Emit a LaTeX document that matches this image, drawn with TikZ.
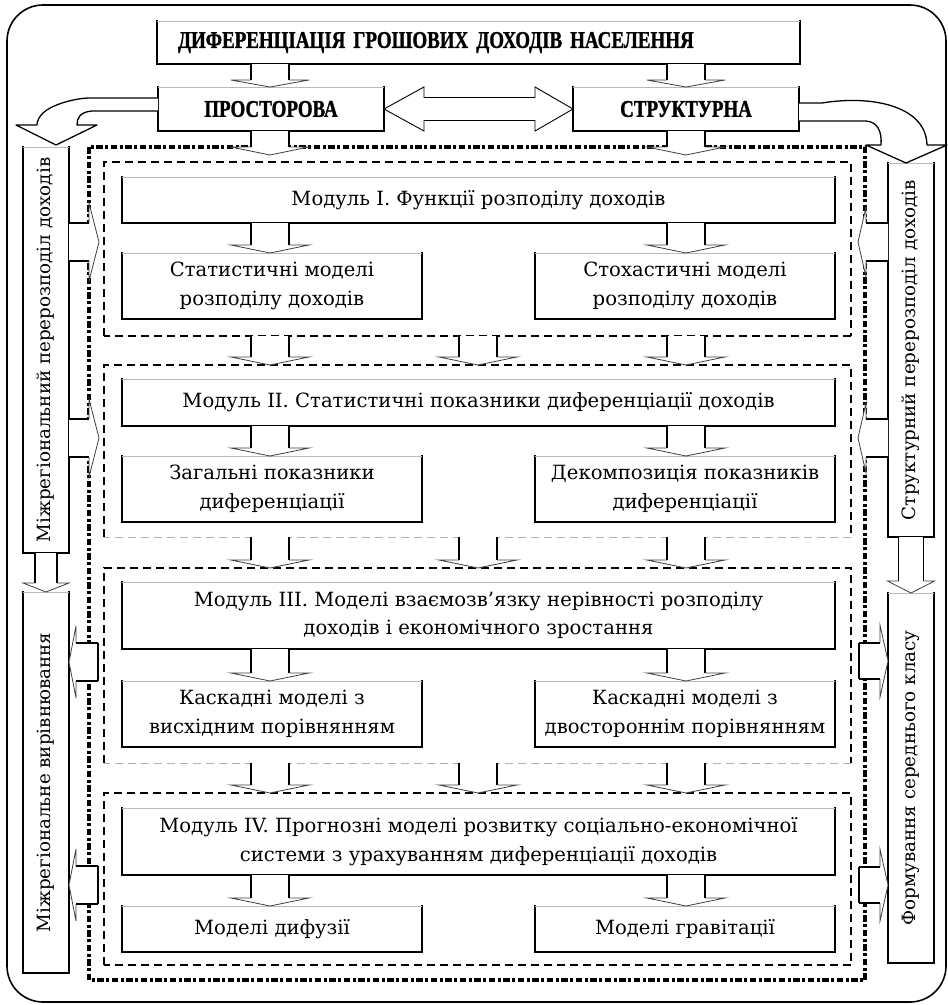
\documentclass[tikz,border=0pt]{standalone}
\usepackage{fontspec}
\usepackage{graphicx}
\setmainfont{DejaVu Serif}
\newfontfamily\titlefont[FakeStretch=0.79,FakeBold=1.2]{Liberation Serif}
\usetikzlibrary{calc}
\newcommand\bodyf{\fontsize{19.6}{28.5}\selectfont}
\newcommand\colf{\fontsize{18.3}{22}\selectfont}
\newcommand\ttlf{\titlefont\bfseries\fontsize{24}{28}\selectfont}
\tikzset{
  box/.style={draw=black, line width=1.4pt, fill=white, inner sep=0pt, outer sep=0pt, align=center, font=\bodyf},
  frm/.style={inner sep=0pt, outer sep=0pt, draw=none},
  modfr/.style={line width=1.4pt, dash pattern=on 8pt off 5pt},
  modfrlight/.style={line width=0.9pt, gray!60, dash pattern=on 8pt off 5pt},
  dotfr/.style={line width=4.5pt, dash pattern=on 6.5pt off 2.5pt on 3pt off 2.5pt},
  outerfr/.style={line width=1.6pt, rounded corners=36pt},
  shaftln/.style={line width=1.4pt, black},
  headln/.style={line width=0.8pt, black!75},
  curvarr/.style={fill=white, draw=black, line width=1.3pt, line join=round},
}
\newcommand\ArrDown[5]{%
  \fill[white] let \p1=(#1),\p2=(#2) in
    (\x1-#3pt,\y1) -- (\x1-#3pt,\y2+#5pt) -- (\x1-#4pt,\y2+#5pt) -- (\x1,\y2)
    -- (\x1+#4pt,\y2+#5pt) -- (\x1+#3pt,\y2+#5pt) -- (\x1+#3pt,\y1) -- cycle;
  \draw[shaftln] let \p1=(#1),\p2=(#2) in
    (\x1-#3pt,\y1) -- (\x1-#3pt,\y2+#5pt) (\x1+#3pt,\y1) -- (\x1+#3pt,\y2+#5pt);
  \draw[headln] let \p1=(#1),\p2=(#2) in
    (\x1-#3pt,\y2+#5pt) -- (\x1-#4pt,\y2+#5pt) -- (\x1,\y2) -- (\x1+#4pt,\y2+#5pt) -- (\x1+#3pt,\y2+#5pt);
}
\newcommand\ArrRight[5]{%
  \fill[white] let \p1=(#1),\p2=(#2) in
    (\x1,\y1+#3pt) -- (\x2-#5pt,\y1+#3pt) -- (\x2-#5pt,\y1+#4pt) -- (\x2,\y1)
    -- (\x2-#5pt,\y1-#4pt) -- (\x2-#5pt,\y1-#3pt) -- (\x1,\y1-#3pt) -- cycle;
  \draw[shaftln] let \p1=(#1),\p2=(#2) in
    (\x1,\y1+#3pt) -- (\x2-#5pt,\y1+#3pt) (\x1,\y1-#3pt) -- (\x2-#5pt,\y1-#3pt);
  \draw[headln] let \p1=(#1),\p2=(#2) in
    (\x2-#5pt,\y1+#3pt) -- (\x2-#5pt,\y1+#4pt) -- (\x2,\y1) -- (\x2-#5pt,\y1-#4pt) -- (\x2-#5pt,\y1-#3pt);
}
\newcommand\ArrLeft[5]{%
  \fill[white] let \p1=(#1),\p2=(#2) in
    (\x1,\y1+#3pt) -- (\x2+#5pt,\y1+#3pt) -- (\x2+#5pt,\y1+#4pt) -- (\x2,\y1)
    -- (\x2+#5pt,\y1-#4pt) -- (\x2+#5pt,\y1-#3pt) -- (\x1,\y1-#3pt) -- cycle;
  \draw[shaftln] let \p1=(#1),\p2=(#2) in
    (\x1,\y1+#3pt) -- (\x2+#5pt,\y1+#3pt) (\x1,\y1-#3pt) -- (\x2+#5pt,\y1-#3pt);
  \draw[headln] let \p1=(#1),\p2=(#2) in
    (\x2+#5pt,\y1+#3pt) -- (\x2+#5pt,\y1+#4pt) -- (\x2,\y1) -- (\x2+#5pt,\y1-#4pt) -- (\x2+#5pt,\y1-#3pt);
}
\newcommand\ArrCap[2]{%
  \draw[shaftln] let \p1=(#1) in (\x1,\y1+#2pt) -- (\x1,\y1-#2pt);
}
\begin{document}
\begin{tikzpicture}[x=1pt,y=-1pt]
\useasboundingbox (0,0) rectangle (948,1005);
\fill[white] (0,0) rectangle (948,1005);
\draw[outerfr] (7,5) rectangle (946,1002);

% frames
\node[frm, minimum width=776pt, minimum height=833pt] (dots) at (477,563.5) {};
\draw[dotfr] (dots.north west) rectangle (dots.south east);
\node[frm, minimum width=747pt, minimum height=174pt] (f1) at (477.5,249) {};
\node[frm, minimum width=747pt, minimum height=172pt] (f2) at (477.5,451) {};
\node[frm, minimum width=747pt, minimum height=195pt] (f3) at (477.5,665.5) {};
\node[frm, minimum width=747pt, minimum height=172pt] (f4) at (477.5,879) {};
\foreach \f in {f1,f2,f3,f4}
  \draw[modfr] (\f.south west) -- (\f.north west) -- (\f.north east) -- (\f.south east);
\draw[modfr] (f1.south east) -- (f1.south west);
\draw[modfrlight] (f2.south east) -- (f2.south west);
\draw[modfrlight] (f3.south east) -- (f3.south west);
\draw[modfr] (f4.south east) -- (f4.south west);

% boxes
\node[box, minimum height=43pt, text width=601pt, inner xsep=21pt, align=left, font=\ttlf] (title) at (478.5,42.5) {ДИФЕРЕНЦІАЦІЯ ГРОШОВИХ ДОХОДІВ НАСЕЛЕННЯ};
\node[box, minimum width=226pt, minimum height=44pt, font=\ttlf] (pr) at (271,109) {ПРОСТОРОВА};
\node[box, minimum width=226pt, minimum height=44pt, font=\ttlf] (st) at (686,109) {СТРУКТУРНА};

\node[box, minimum width=713pt, minimum height=46pt] (m1h) at (478.5,200) {Модуль I. Функції розподілу доходів};
\node[box, minimum width=300pt, minimum height=66pt] (m1l) at (272,286) {Статистичні моделі\\розподілу доходів};
\node[box, minimum width=300pt, minimum height=66pt] (m1r) at (685,286) {Стохастичні моделі\\розподілу доходів};

\node[box, minimum width=713pt, minimum height=47pt] (m2h) at (478.5,402.5) {Модуль II. Статистичні показники диференціації доходів};
\node[box, minimum width=300pt, minimum height=66pt] (m2l) at (272,489) {Загальні показники\\диференціації};
\node[box, minimum width=300pt, minimum height=66pt] (m2r) at (685,489) {Декомпозиція показників\\диференціації};

\node[box, minimum width=713pt, minimum height=67pt] (m3h) at (478.5,615.5) {Модуль III. Моделі взаємозв’язку нерівності розподілу\\доходів і економічного зростання};
\node[box, minimum width=300pt, minimum height=66pt] (m3l) at (272,714) {Каскадні моделі з\\висхідним порівнянням};
\node[box, minimum width=300pt, minimum height=66pt] (m3r) at (685,714) {Каскадні моделі з\\двостороннім порівнянням};

\node[box, minimum width=713pt, minimum height=67pt] (m4h) at (478.5,841.5) {Модуль IV. Прогнозні моделі розвитку соціально-економічної\\системи з урахуванням диференціації доходів};
\node[box, minimum width=300pt, minimum height=46pt] (m4l) at (272,929) {Моделі дифузії};
\node[box, minimum width=300pt, minimum height=46pt] (m4r) at (685,929) {Моделі гравітації};

\node[box, font=\colf, minimum width=46pt, minimum height=406pt] (colL1) at (46,350) {\rotatebox{90}{Міжрегіональний перерозподіл доходів}};
\node[box, font=\colf, minimum width=46pt, minimum height=381pt] (colL2) at (46,782.5) {\rotatebox{90}{Міжрегіональне вирівнювання}};
\node[box, font=\colf, minimum width=46pt, minimum height=374pt] (colR1) at (911,350) {\rotatebox{90}{Структурний перерозподіл доходів}};
\node[box, font=\colf, minimum width=46pt, minimum height=370pt] (colR2) at (911,778) {\rotatebox{90}{Формування середнього класу}};

\foreach \n in {title,pr,st,m1h,m1l,m1r,m2h,m2l,m2r,m3h,m3l,m3r,m4h,m4l,m4r,colL1,colL2,colR1,colR2}{
  \draw[white, line width=1.7pt] ([xshift=0.7pt]\n.north west) -- ([xshift=-0.7pt]\n.north east);
  \draw[gray!55, line width=0.6pt] (\n.north west) -- (\n.north east);
}

% vertical positions of arrows
\coordinate (xL) at (270,0);
\coordinate (xM) at (478,0);
\coordinate (xR) at (686,0);
\coordinate (tipPL) at ($(xL |- dots.north)+(0,8)$);
\coordinate (tipPR) at ($(xR |- dots.north)+(0,8)$);

\ArrDown{xL |- title.south}{xL |- pr.north}{19}{39}{7}
\ArrDown{xR |- title.south}{xR |- st.north}{19}{39}{7}
\ArrDown{xL |- pr.south}{tipPL}{19}{39}{8}
\ArrDown{xR |- st.south}{tipPR}{19}{39}{8}

\ArrDown{xL |- m1h.south}{xL |- m1l.north}{19}{39}{8}
\ArrDown{xR |- m1h.south}{xR |- m1r.north}{19}{39}{8}
\ArrDown{xL |- m2h.south}{xL |- m2l.north}{19}{39}{8}
\ArrDown{xR |- m2h.south}{xR |- m2r.north}{19}{39}{8}
\ArrDown{xL |- m3h.south}{xL |- m3l.north}{19}{39}{8}
\ArrDown{xR |- m3h.south}{xR |- m3r.north}{19}{39}{8}
\ArrDown{xL |- m4h.south}{xL |- m4l.north}{19}{39}{8}
\ArrDown{xR |- m4h.south}{xR |- m4r.north}{19}{39}{8}

\foreach \a/\b in {f1/f2,f2/f3,f3/f4}{
  \ArrDown{xL |- \a.south}{xL |- \b.north}{19}{39}{8}
  \ArrDown{xM |- \a.south}{xM |- \b.north}{19}{39}{8}
  \ArrDown{xR |- \a.south}{xR |- \b.north}{19}{39}{8}
}

% column arrows
\ArrDown{colL1.south}{colL2.north}{11}{23}{9}
\ArrDown{colR1.south}{colR2.north}{12.5}{23.5}{12}

% side arrows
\coordinate (aL1) at (99,242);
\coordinate (aL2) at (99,438);
\ArrRight{colL1.east |- aL1}{aL1}{19}{39}{10}
\ArrRight{colL1.east |- aL2}{aL2}{19}{39}{10}
\coordinate (aR1) at (858,242);
\coordinate (aR2) at (858,438);
\ArrLeft{colR1.west |- aR1}{aR1}{19}{35}{8}
\ArrLeft{colR1.west |- aR2}{aR2}{19}{35}{8}
\coordinate (sL3) at (98,662);
\coordinate (sL4) at (98,885);
\ArrLeft{sL3}{colL2.east |- sL3}{19}{36}{7}
\ArrCap{sL3}{19}
\ArrLeft{sL4}{colL2.east |- sL4}{19}{36}{7}
\ArrCap{sL4}{19}
\coordinate (sR3) at (859,661);
\coordinate (sR4) at (859,885);
\ArrRight{sR3}{colR2.west |- sR3}{18}{36}{8}
\ArrCap{sR3}{18}
\ArrRight{sR4}{colR2.west |- sR4}{18}{36}{8}
\ArrCap{sR4}{18}

% double arrow between ПРОСТОРОВА and СТРУКТУРНА
\filldraw[fill=white, draw=black, line width=0.9pt] let \p1=(pr.east),\p2=(st.west) in
  (\x1,\y1) -- (\x1+40pt,\y1+22pt) -- (\x1+40pt,\y1+11.5pt) -- (\x2-38pt,\y1+11.5pt)
  -- (\x2-38pt,\y1+22pt) -- (\x2,\y1) -- (\x2-38pt,\y1-22pt) -- (\x2-38pt,\y1-11.5pt)
  -- (\x1+40pt,\y1-11.5pt) -- (\x1+40pt,\y1-22pt) -- cycle;

% curved arrows
\coordinate (cl) at (56,145);
\filldraw[curvarr] (pr.west |- 0,98) -- (88,98) .. controls (70,99) and (50,106) .. (43,113)
  .. controls (39,117) and (37,121) .. (37,125) -- (16,125) -- (cl) -- (97,125) -- (77,125)
  .. controls (77,118) and (80,112) .. (92,111) -- (pr.west |- 0,111);
\coordinate (cr) at (906,163);
\filldraw[curvarr] (st.east |- 0,103) -- (822,103) .. controls (870,95) and (926,105) .. (927,145)
  -- (947,145) -- (cr) -- (866,145) -- (881,145) .. controls (882,132) and (878,122) .. (866,121)
  -- (st.east |- 0,121);
\end{tikzpicture}
\end{document}
